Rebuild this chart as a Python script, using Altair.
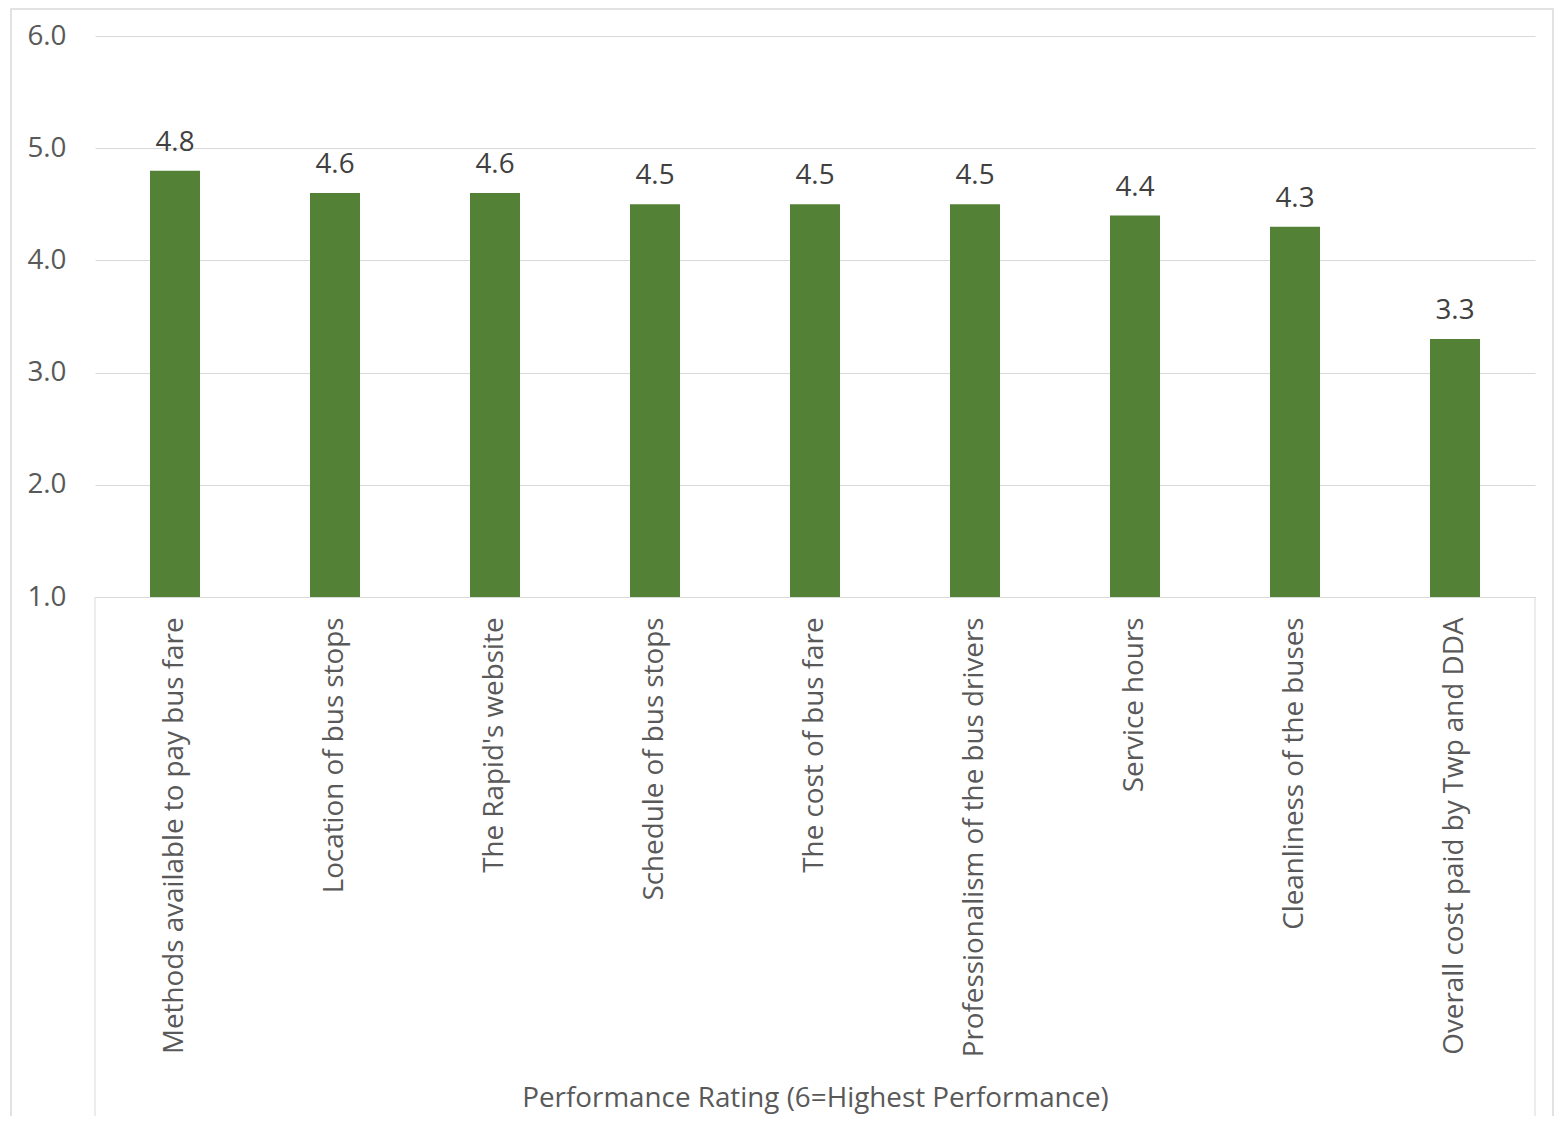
import altair as alt
import pandas as pd

categories = [
    "Methods available to pay bus fare",
    "Location of bus stops",
    "The Rapid's website",
    "Schedule of bus stops",
    "The cost of bus fare",
    "Professionalism of the bus drivers",
    "Service hours",
    "Cleanliness of the buses",
    "Overall cost paid by Twp and DDA",
]
ratings = [4.8, 4.6, 4.6, 4.5, 4.5, 4.5, 4.4, 4.3, 3.3]
y_ticks = [1, 2, 3, 4, 5, 6]

df = pd.DataFrame({"category": categories, "rating": ratings})

W, H = 1440, 561
FONT = "Open Sans"
GRID = "#d9d9d9"
FS = 27.8

x_enc = alt.X(
    "category:N",
    sort=categories,
    scale=alt.Scale(paddingInner=0.6875, paddingOuter=0.34375),
    axis=alt.Axis(
        title="Performance Rating (6=Highest Performance)",
        labelAngle=-90,
        labelFontSize=FS,
        labelColor="#595959",
        labelFont=FONT,
        labelPadding=20,
        labelLimit=600,
        ticks=False,
        domainColor=GRID,
        domainWidth=1,
        titleFont=FONT,
        titleFontSize=FS,
        titleFontWeight="normal",
        titleColor="#595959",
        titleY=501,
        titleBaseline="middle",
    ),
)

y_scale = alt.Scale(domain=[1, 6], nice=False, zero=False)

bars = alt.Chart(df).mark_bar(color="#538135").encode(
    x=x_enc,
    y=alt.Y(
        "rating:Q",
        scale=y_scale,
        axis=alt.Axis(
            values=y_ticks,
            format=".1f",
            title=None,
            domain=False,
            ticks=False,
            labelFontSize=FS,
            labelColor="#595959",
            labelFont=FONT,
            labelPadding=29,
            gridColor=GRID,
            gridWidth=1,
        ),
    ),
    y2=alt.datum(1),
)

labels = alt.Chart(df).mark_text(
    baseline="middle", dy=-28, fontSize=FS, font=FONT, color="#404040"
).encode(
    x=alt.X("category:N", sort=categories),
    y=alt.Y("rating:Q", scale=y_scale),
    text=alt.Text("rating:Q", format=".1f"),
)

frame_df = pd.DataFrame({"k": [0]})
vlines = alt.Chart(frame_df).mark_rule(color=GRID, strokeWidth=1, clip=False).encode(
    x=alt.value(0), y=alt.value(H), y2=alt.value(1080)
)
vlines2 = alt.Chart(frame_df).mark_rule(color=GRID, strokeWidth=1, clip=False).encode(
    x=alt.value(W), y=alt.value(H), y2=alt.value(1080)
)
border = alt.Chart(frame_df).mark_rect(
    fill=None, stroke=GRID, strokeWidth=1.5, clip=False
).encode(
    x=alt.value(-84), x2=alt.value(1458), y=alt.value(-27), y2=alt.value(1100)
)

chart = alt.layer(border, bars, labels, vlines, vlines2).properties(
    width=W,
    height=H,
    background="white",
    autosize=alt.AutoSizeParams(type="none"),
    padding={"left": 87, "top": 28, "right": 20, "bottom": 519},
).configure_view(stroke=None)

chart.save("out.html", embed_options={"renderer": "svg", "actions": False})
